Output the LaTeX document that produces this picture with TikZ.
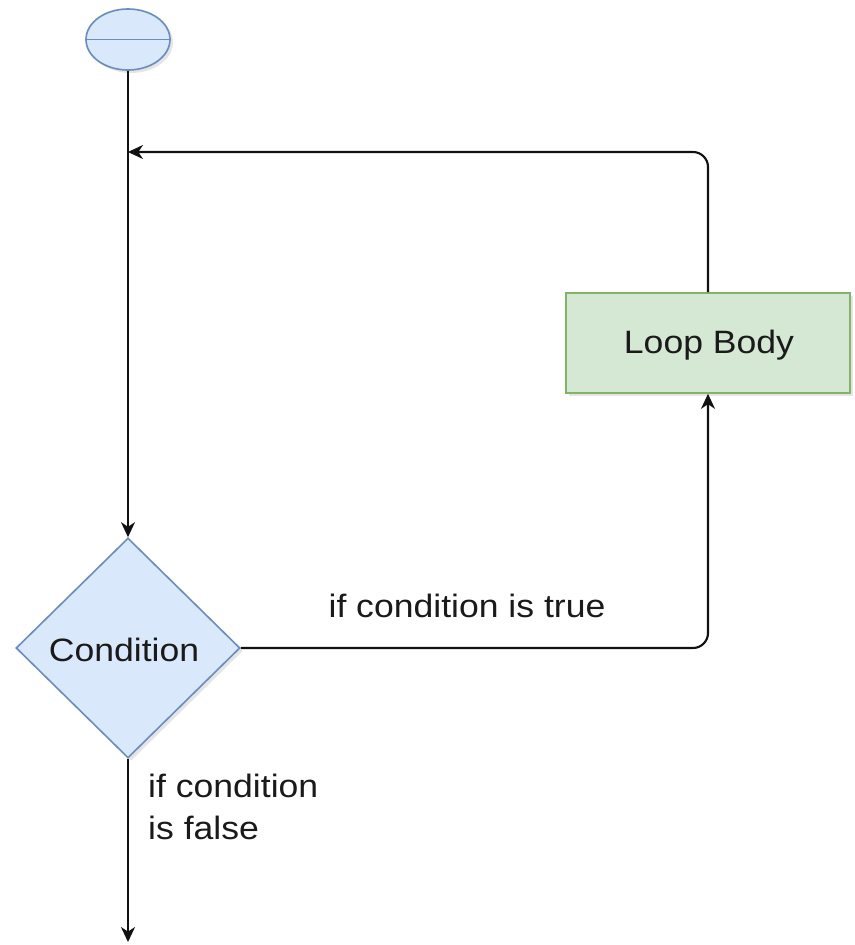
\documentclass[tikz,border=0pt]{standalone}
\usepackage{fontspec}
\setmainfont{Liberation Sans}[FakeStretch=1.1]
\usetikzlibrary{shapes.geometric,arrows.meta,shadows}
\definecolor{bluefill}{HTML}{DAE8FC}
\definecolor{bluedraw}{HTML}{6C8EBF}
\definecolor{greenfill}{HTML}{D5E8D4}
\definecolor{greendraw}{HTML}{82B366}
\definecolor{txt}{HTML}{1A1A1A}
\definecolor{edge}{HTML}{111111}
\tikzset{
  shapeshadow/.style={drop shadow={opacity=0.2,shadow xshift=0.09cm,shadow yshift=-0.09cm}},
  bluebox/.style={fill=bluefill,draw=bluedraw,line width=1.4pt,shapeshadow},
  greenbox/.style={fill=greenfill,draw=greendraw,line width=1.4pt,shapeshadow,rectangle,
    minimum width=8.52cm,minimum height=3.0cm,inner sep=0pt},
  lbl/.style={text=txt,font=\fontsize{27.6}{35.7}\selectfont,inner sep=0pt},
  arr/.style={draw=edge,line width=1.8pt,-{Stealth[length=0.45cm,width=0.42cm,inset=0.14cm]}},
}
\begin{document}
\begin{tikzpicture}[x=0.03cm,y=-0.03cm]
\useasboundingbox[fill=white] (0,0) rectangle (854,945);
% start
\node[bluebox,ellipse,minimum width=2.52cm,minimum height=1.83cm,inner sep=0pt] (start) at (128,39.5) {};
\draw[draw=bluedraw,line width=1.4pt] (start.west) -- (start.east);
% loop body
\node[greenbox] (body) at (708,343) {};
\node[lbl] (bodytxt) at (709,345) {Loop Body};
% condition
\node[bluebox,diamond,aspect=1.02,minimum width=6.72cm,minimum height=6.6cm,inner sep=0pt] (cond) at (128,648) {};
\node[lbl] (condtxt) at (124,650) {Condition};
% coordinates
\coordinate (join) at (128,152);
\coordinate (endpt) at (128,942);
% connectors
\draw[arr] (start.south) -- (cond.north);
\draw[arr,rounded corners=0.45cm] (body.north) |- (join);
\draw[arr,rounded corners=0.45cm] (cond.east) -| (body.south);
\draw[arr] (cond.south) -- (endpt);
% labels
\node[lbl] (truelbl) at (467,606) {if condition is true};
\node[lbl,anchor=west,align=left] (falselbl) at (148,807) {if condition\\is false};
\end{tikzpicture}
\end{document}
